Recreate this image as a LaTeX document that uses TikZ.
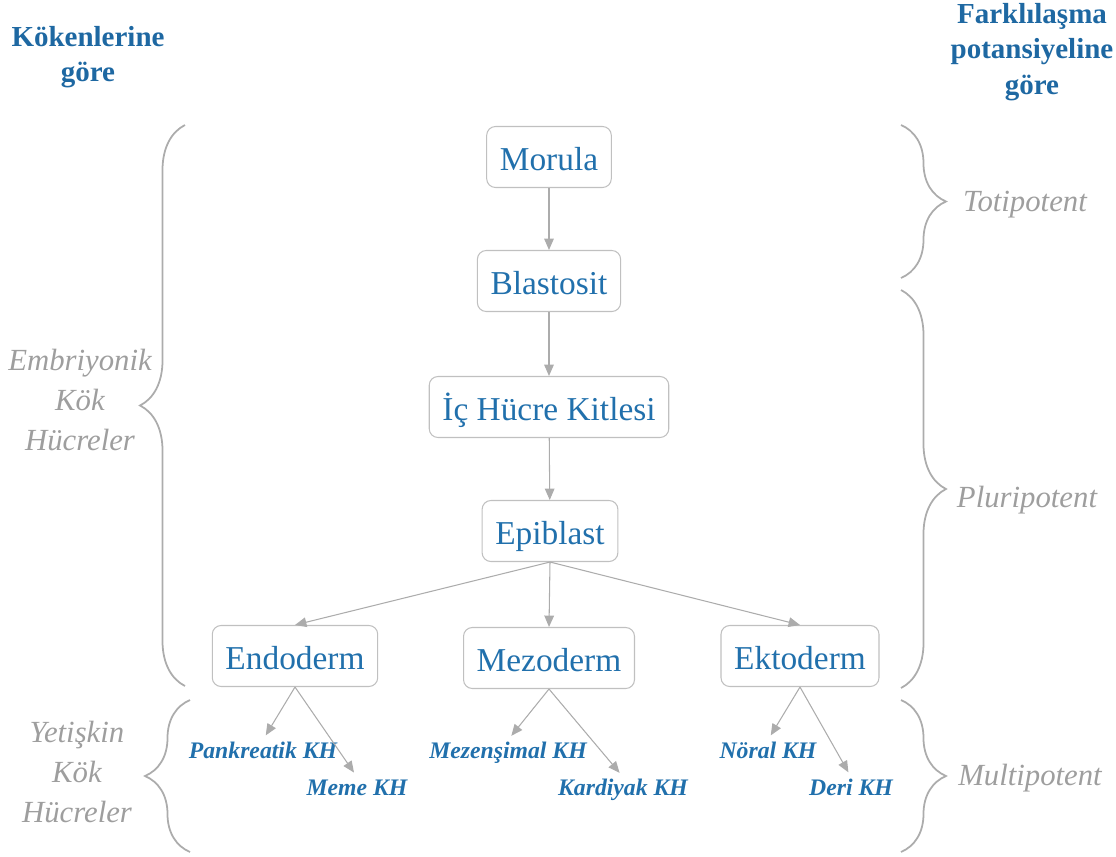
\documentclass[tikz,border=0pt]{standalone}
\usepackage{fontspec}
\setmainfont{Liberation Serif}
\usepackage{tikz}
\usetikzlibrary{
	arrows.meta,
	decorations.pathreplacing,
	positioning
}
\definecolor{CellBlue}{RGB}{33,112,172}
\definecolor{HeadBlue}{RGB}{30,104,162}
\definecolor{LabelGray}{RGB}{158,158,158}
\definecolor{LineGray}{RGB}{172,172,172}
\definecolor{BoxGray}{RGB}{192,192,192}

\begin{document}
\begin{tikzpicture}[x=0.02cm, y=-0.02cm,
		cell/.style={draw=BoxGray, line width=0.6pt, rounded corners=5pt, text=CellBlue,
			font=\fontsize{19}{22}\selectfont, inner xsep=7.5pt, minimum height=1.22cm,
			text height=16pt, text depth=1pt},
		stemlbl/.style={text=CellBlue, font=\bfseries\itshape\fontsize{13.5}{16}\selectfont,
			inner sep=1pt, text height=9.5pt, text depth=3pt},
		side/.style={text=LabelGray, font=\itshape\fontsize{17.5}{22.5}\selectfont, align=center},
		head/.style={text=HeadBlue, font=\bfseries\fontsize{16.5}{20}\selectfont, align=center},
		link/.style={draw=LineGray, line width=0.6pt, -{Triangle[length=6.5pt,width=5.5pt]}},
		curly/.style={draw=LineGray, line width=1pt, decorate, decoration={brace, amplitude=0.9cm}}]
		\useasboundingbox (0,0) rectangle (1116,856);
		% headers
		\node[head] (origin) at (88,57) {Kökenlerine\\göre};
		\node[head] (potency) at (1032,52) {Farklılaşma\\potansiyeline\\göre};
		% cells
		\node[cell] (morula) at (549,157) {Morula};
		\node[cell] (blast) at (549,281) {Blastosit};
		\node[cell] (icm) at (549,407) {İç Hücre Kitlesi};
		\node[cell] (epi) at (550,531) {Epiblast};
		\node[cell] (endo) at (295,656) {Endoderm};
		\node[cell] (mezo) at (549,658) {Mezoderm};
		\node[cell] (ekto) at (800,656) {Ektoderm};
		% adult stem cells
		\node[stemlbl] (pank) at (263,753) {Pankreatik KH};
		\node[stemlbl] (meme) at (357,790) {Meme KH};
		\node[stemlbl] (mezen) at (508,753) {Mezenşimal KH};
		\node[stemlbl] (kard) at (623,790) {Kardiyak KH};
		\node[stemlbl] (noral) at (768,753) {Nöral KH};
		\node[stemlbl] (deri) at (851,790) {Deri KH};
		% arrows
		\draw[link] (morula) -- (blast);
		\draw[link] (blast) -- (icm);
		\draw[link] (icm) -- (epi);
		\draw[link] (epi.south) -- (endo.north);
		\draw[link] (epi.south) -- (mezo.north);
		\draw[link] (epi.south) -- (ekto.north);
		\draw[link, shorten >=3pt] (endo.south) -- (pank.north);
		\draw[link, shorten >=3pt] (endo.south) -- (meme.north);
		\draw[link, shorten >=3pt] (mezo.south) -- (mezen.north);
		\draw[link, shorten >=3pt] (mezo.south) -- (kard.north);
		\draw[link, shorten >=3pt] (ekto.south) -- (noral.north);
		\draw[link, shorten >=3pt] (ekto.south) -- (deri.north);
		% braces
		\coordinate (LT) at (185,125);
		\coordinate (LB) at (185,686);
		\coordinate (YT) at (190,700);
		\coordinate (YB) at (190,852);
		\coordinate (TT) at (901,125);
		\coordinate (TB) at (901,278);
		\coordinate (PT) at (901,290);
		\coordinate (PB) at (901,688);
		\coordinate (MT) at (901,700);
		\coordinate (MB) at (901,852);
		\draw[curly] (LB) -- (LT);
		\draw[curly] (YB) -- (YT);
		\draw[curly] (TT) -- (TB);
		\draw[curly] (PT) -- (PB);
		\draw[curly] (MT) -- (MB);
		\node[side] (embr) at (80,400) {Embriyonik\\Kök\\Hücreler};
		\node[side] (yetis) at (77,772) {Yetişkin\\Kök\\Hücreler};
		\node[side] (toti) at (1025,205) {Totipotent};
		\node[side] (pluri) at (1027,500) {Pluripotent};
		\node[side] (multi) at (1030,778) {Multipotent};
	\end{tikzpicture}
\end{document}
